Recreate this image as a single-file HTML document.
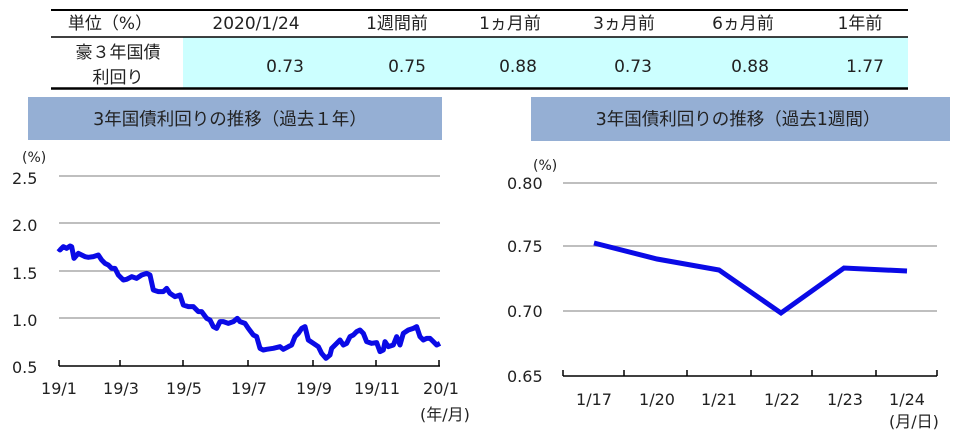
<!DOCTYPE html>
<html><head><meta charset="utf-8"><style>
body{margin:0;width:956px;height:436px;background:#fff;overflow:hidden;font-family:"DejaVu Sans","Noto Sans CJK JP",sans-serif;}
</style></head><body>
<svg width="956" height="436" xmlns="http://www.w3.org/2000/svg" font-family="DejaVu Sans, Noto Sans CJK JP, sans-serif" fill="#222">
<rect x="183" y="37" width="725" height="51" fill="#ccffff"/>
<line x1="51" y1="10" x2="908" y2="10" stroke="#000" stroke-width="2"/>
<line x1="51" y1="37" x2="908" y2="37" stroke="#000" stroke-width="1.5"/>
<line x1="51" y1="88.5" x2="908" y2="88.5" stroke="#000" stroke-width="2.5"/>
<g font-size="17" text-anchor="middle">
<text x="110" y="29">単位（%）</text>
<text x="256" y="29">2020/1/24</text>
<text x="397" y="29">1週間前</text>
<text x="510" y="29">1ヵ月前</text>
<text x="624" y="29">3ヵ月前</text>
<text x="743" y="29">6ヵ月前</text>
<text x="860" y="29">1年前</text>
<text x="118" y="58">豪３年国債</text>
<text x="118" y="83">利回り</text>
<text x="285" y="72">0.73</text>
<text x="407" y="72">0.75</text>
<text x="518" y="72">0.88</text>
<text x="633" y="72">0.73</text>
<text x="750" y="72">0.88</text>
<text x="865" y="72">1.77</text>
</g>
<rect x="28" y="97" width="414" height="43" fill="#95afd4"/>
<text x="230" y="125" font-size="17.5" text-anchor="middle">3年国債利回りの推移（過去１年）</text>
<rect x="531" y="97" width="419" height="44" fill="#95afd4"/>
<text x="738" y="125" font-size="17.5" text-anchor="middle">3年国債利回りの推移（過去1週間）</text>
<g stroke="#aaa" stroke-width="1.5">
<line x1="59" y1="176" x2="440" y2="176"/><line x1="59" y1="223" x2="440" y2="223"/>
<line x1="59" y1="271" x2="440" y2="271"/><line x1="59" y1="318" x2="440" y2="318"/>
</g>
<g stroke="#000" stroke-width="1.5">
<line x1="59" y1="366" x2="440" y2="366"/>
<line x1="59" y1="360" x2="59" y2="366"/><line x1="120" y1="360" x2="120" y2="366"/><line x1="183" y1="360" x2="183" y2="366"/><line x1="248" y1="360" x2="248" y2="366"/><line x1="313" y1="360" x2="313" y2="366"/><line x1="376" y1="360" x2="376" y2="366"/><line x1="439" y1="360" x2="439" y2="366"/>
</g>
<g font-size="16">
<text x="22" y="162" font-size="14">(%)</text>
<text x="12" y="184">2.5</text><text x="12" y="231">2.0</text><text x="12" y="279">1.5</text><text x="12" y="326">1.0</text><text x="12" y="373">0.5</text>
<g text-anchor="middle">
<text x="59" y="394">19/1</text><text x="121" y="394">19/3</text><text x="184" y="394">19/5</text><text x="249" y="394">19/7</text><text x="314" y="394">19/9</text><text x="377" y="394">19/11</text><text x="441" y="394">20/1</text>
<text x="445" y="420">(年/月)</text>
</g>
</g>
<g transform="translate(0,140) scale(0.33333)">
<polyline fill="none" stroke="#0a0ae6" stroke-width="15" stroke-linejoin="round" points="175,325 180,330 190,320 200,325 210,318 215,320 222,355 235,340 245,345 255,350 265,352 280,350 295,345 305,360 315,370 325,375 335,385 345,385 355,405 370,420 380,418 395,410 410,415 425,405 440,400 450,405 460,450 475,455 490,455 500,445 510,460 525,470 540,465 550,495 565,500 580,500 595,515 605,515 620,535 630,540 640,560 650,565 660,545 670,545 685,550 700,545 712,535 720,545 735,550 745,565 760,585 770,590 780,625 790,630 800,628 820,625 840,620 850,628 865,620 875,615 885,590 895,580 905,565 915,560 925,600 940,610 955,620 965,640 978,655 990,645 995,625 1010,610 1020,600 1030,615 1040,610 1050,590 1060,585 1070,575 1080,570 1090,580 1100,605 1115,610 1130,608 1140,635 1150,630 1155,605 1165,620 1180,615 1190,590 1200,615 1210,580 1225,570 1240,565 1250,560 1260,590 1270,600 1280,595 1290,595 1300,605 1310,615 1320,610"/>
</g>
<g stroke="#aaa" stroke-width="1.5">
<line x1="563" y1="183" x2="937" y2="183"/><line x1="563" y1="246" x2="937" y2="246"/><line x1="563" y1="311" x2="937" y2="311"/>
</g>
<g stroke="#000" stroke-width="1.5">
<line x1="563" y1="376" x2="937" y2="376"/>
<line x1="563" y1="370" x2="563" y2="376"/><line x1="624" y1="370" x2="624" y2="376"/><line x1="687" y1="370" x2="687" y2="376"/><line x1="751" y1="370" x2="751" y2="376"/><line x1="812" y1="370" x2="812" y2="376"/><line x1="876" y1="370" x2="876" y2="376"/><line x1="937" y1="370" x2="937" y2="376"/>
</g>
<g font-size="16">
<text x="533" y="170" font-size="14">(%)</text>
<text x="507" y="189">0.80</text><text x="507" y="252">0.75</text><text x="507" y="317">0.70</text><text x="507" y="382">0.65</text>
<g text-anchor="middle">
<text x="594" y="405">1/17</text><text x="657" y="405">1/20</text><text x="719" y="405">1/21</text><text x="782" y="405">1/22</text><text x="845" y="405">1/23</text><text x="907" y="405">1/24</text>
<text x="914" y="427">(月/日)</text>
</g>
</g>
<polyline fill="none" stroke="#0a0ae6" stroke-width="5" points="594,243 657,259 719,270 781,313 844,268 907,271"/>
</svg>
</body></html>
